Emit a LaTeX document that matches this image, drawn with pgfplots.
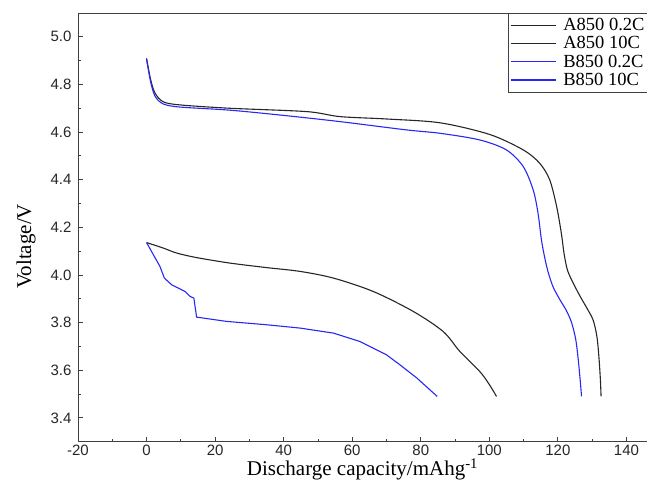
\documentclass[border=0pt]{standalone}
\usepackage{fontspec}
\setmainfont{Liberation Serif}
\setsansfont{Liberation Sans}
\usepackage{pgfplots}
\pgfplotsset{compat=1.18}
\usetikzlibrary{calc}

\definecolor{bluel}{RGB}{40,40,245}

\begin{document}
\begin{tikzpicture}
\begin{axis}[
  scale only axis,
  width=569pt, height=428.7pt,
  xmin=-20, xmax=146,
  ymin=3.3, ymax=5.1,
  xtick={-20,0,...,140},
  ytick={3.4,3.6,...,5.0},
  minor x tick num=1,
  minor y tick num=1,
  tick pos=left,
  tick align=inside,
  major tick length=5pt,
  minor tick length=3pt,
  axis line style={black!75, line width=0.9pt},
  every tick/.style={black!75, line width=0.8pt},
  tick label style={font=\sffamily\fontsize{15}{18}\selectfont, black!85},
  /pgf/number format/assume math mode=true,
  yticklabel style={xshift=-3pt, /pgf/number format/.cd, fixed, fixed zerofill, precision=1},
  xlabel={Discharge capacity/mAhg\textsuperscript{-1}},
  ylabel={Voltage/V},
  label style={font=\fontsize{21}{24}\selectfont},
  xlabel style={yshift=4pt},
  ylabel style={yshift=8pt, xshift=-19pt},
  legend style={name=leg, at={(0.7557,1)}, anchor=north west, draw=none,
    font=\fontsize{18.5}{20}\selectfont, inner xsep=2pt, inner ysep=3pt,
    cells={anchor=west}, row sep=0.5pt},
  legend image code/.code={\draw[#1] (0pt,0pt) -- (45pt,0pt); \path (50pt,0pt);},
  every axis plot/.append style={line width=1.1pt},
]
\addlegendimage{draw=black!85, line width=1.1pt}
\addlegendentry{A850 0.2C}
\addlegendimage{draw=black!85, line width=1.1pt}
\addlegendentry{A850 10C}
\addlegendimage{draw=bluel, line width=1.1pt}
\addlegendentry{B850 0.2C}
\addlegendimage{draw=bluel, line width=1.1pt}
\addlegendentry{B850 10C}
% A850 0.2C
\addplot[black!85, smooth, forget plot] coordinates {
 (0,4.91) (1.2,4.82) (2.5,4.763) (4.9,4.727) (9.8,4.714) (24.3,4.70)
 (46.7,4.686) (56.4,4.665) (70,4.655) (85.6,4.639) (100.1,4.59) (109.9,4.525)
 (114.7,4.469) (117.6,4.40) (119.6,4.29) (121.0,4.176) (121.8,4.09) (122.8,4.02)
 (124.5,3.965) (126.5,3.91) (128.5,3.86) (130.3,3.81) (131.4,3.74) (132,3.65)
 (132.4,3.56) (132.6,3.49)
};
% A850 10C
\addplot[black!85, smooth, forget plot] coordinates {
 (0,4.136) (4.9,4.113) (8.8,4.092) (14.6,4.073) (24.3,4.05) (35,4.031)
 (44.8,4.015) (54.5,3.987) (66.1,3.931) (77.8,3.847) (86.5,3.763)
 (91.4,3.679) (97.2,3.595) (100,3.54) (102.1,3.49)
};
% B850 0.2C
\addplot[bluel, smooth, forget plot] coordinates {
 (0,4.905) (1.2,4.81) (2.5,4.75) (4.9,4.718) (9.8,4.705) (24.3,4.692)
 (40,4.67) (56.4,4.644) (75.9,4.609) (85.6,4.595) (97.2,4.567) (105,4.525)
 (109.9,4.455) (112.8,4.357) (114.2,4.26) (115.2,4.148) (116.2,4.07)
 (117.2,4.01) (118.6,3.95) (120.6,3.896) (122.5,3.85) (124,3.80) (125.2,3.73)
 (125.9,3.65) (126.5,3.56) (126.9,3.49)
};
% B850 10C
\addplot[bluel, forget plot] coordinates {
 (0,4.136) (3.9,4.036) (5.2,3.987) (7.3,3.959) (11.2,3.931) (12.7,3.91)
 (13.8,3.903) (14.6,3.823) (23.4,3.805) (35,3.791) (44.8,3.777)
 (54.5,3.756) (62.2,3.721) (70,3.665) (73.9,3.623) (78.8,3.568) (84.8,3.49)
};
\coordinate (R) at (axis cs:146,5.1);
\end{axis}
\draw[black!75, line width=0.8pt] (leg.south west) rectangle (leg.north east);
\pgfresetboundingbox
\path ($(current axis.south west)+(-78pt,-52.3pt)$) rectangle ($(R)+(0,13pt)$);
\end{tikzpicture}
\end{document}
